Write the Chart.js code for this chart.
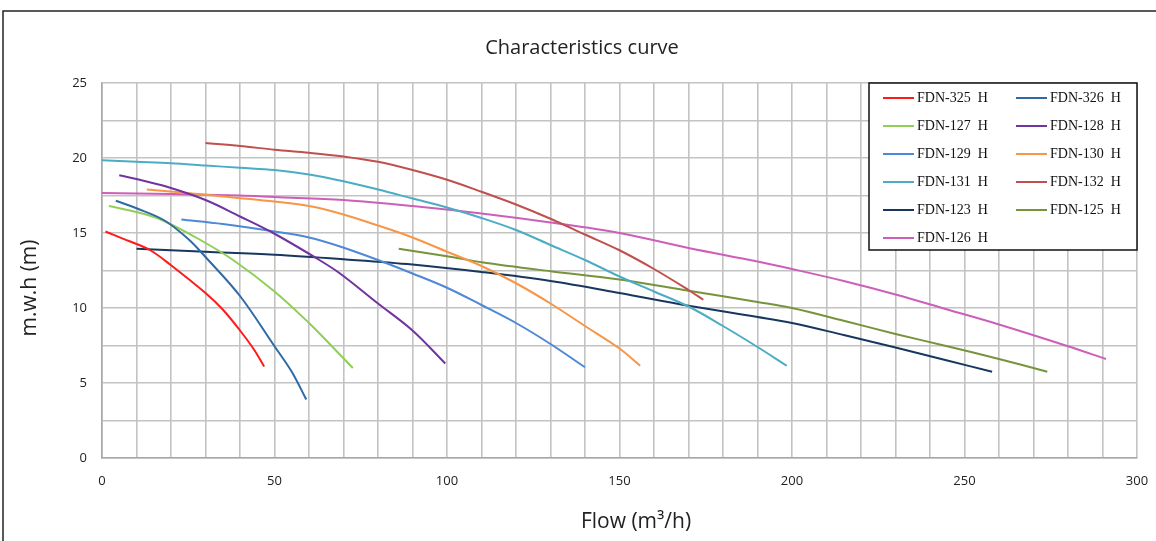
<!DOCTYPE html>
<html>
<head>
<meta charset="utf-8">
<script src="https://cdn.jsdelivr.net/npm/chart.js@4.4.1/dist/chart.umd.min.js"></script>
<style>
    html, body { margin: 0; padding: 0; background: #ffffff; }
    #wrap { position: relative; width: 1156px; height: 541px; }
</style>
</head>
<body>
<div id="wrap"><canvas id="myChart" width="1156" height="541"></canvas></div>
<script>
// flow (m3/h), head (m)
const fdn325 = [[1, 15.1], [8, 14.45], [14, 13.85], [20, 12.85], [30, 11.0], [35, 9.9], [40, 8.5], [44, 7.25], [47, 6.1]];
const fdn326 = [[4, 17.15], [10, 16.65], [18, 15.85], [25, 14.6], [30, 13.4], [40, 10.8], [50, 7.45], [55, 5.75], [59.2, 3.9]];
const fdn127 = [[2, 16.8], [10, 16.4], [17, 15.9], [28, 14.6], [38, 13.2], [50, 11.1], [60, 9.0], [66, 7.6], [72.7, 6.0]];
const fdn128 = [[5, 18.85], [10, 18.6], [18.6, 18.1], [30, 17.2], [40, 16.1], [50, 14.95], [63, 13.2], [69, 12.3], [80, 10.3], [90, 8.5], [99.5, 6.3]];
const fdn129 = [[23, 15.9], [35, 15.6], [50, 15.1], [60, 14.7], [69, 14.1], [80, 13.2], [90, 12.3], [100, 11.35], [110, 10.2], [120, 9.0], [130, 7.6], [140, 6.05]];
const fdn130 = [[13, 17.9], [30, 17.55], [50, 17.1], [60, 16.8], [69, 16.3], [80, 15.5], [90, 14.7], [100, 13.75], [110, 12.8], [120, 11.65], [130, 10.3], [140, 8.8], [150, 7.3], [156, 6.15]];
const fdn131 = [[0, 19.85], [10, 19.75], [20, 19.65], [30, 19.5], [40, 19.35], [50, 19.2], [60, 18.9], [70, 18.45], [80, 17.9], [90, 17.3], [100, 16.7], [110, 16.0], [120, 15.2], [130, 14.2], [140, 13.2], [150, 12.1], [160, 11.1], [170, 10.1], [180, 8.8], [190, 7.4], [198.5, 6.15]];
const fdn132 = [[30, 21.0], [40, 20.8], [50, 20.55], [60, 20.35], [70, 20.1], [80, 19.75], [90, 19.2], [100, 18.55], [110, 17.75], [120, 16.9], [130, 15.95], [140, 14.9], [150, 13.85], [160, 12.6], [170, 11.2], [174.3, 10.55]];
const fdn123 = [[10, 13.95], [30, 13.75], [50, 13.55], [70, 13.25], [90, 12.9], [110, 12.4], [130, 11.8], [150, 11.0], [170, 10.15], [190, 9.4], [200, 9.0], [215, 8.2], [230, 7.37], [245, 6.5], [258, 5.75]];
const fdn125 = [[86, 13.95], [100, 13.45], [110, 13.05], [130, 12.45], [150, 11.9], [170, 11.15], [190, 10.4], [200, 10.0], [215, 9.15], [230, 8.27], [245, 7.45], [260, 6.6], [274, 5.75]];
const fdn126 = [[0, 17.67], [20, 17.6], [40, 17.5], [50, 17.4], [70, 17.2], [90, 16.8], [110, 16.3], [130, 15.7], [150, 15.0], [170, 14.0], [190, 13.1], [200, 12.6], [215, 11.8], [230, 10.9], [245, 9.9], [260, 8.9], [280, 7.45], [291, 6.6]];

const nomes = ['FDN-325  H', 'FDN-326  H', 'FDN-127  H', 'FDN-128  H', 'FDN-129  H', 'FDN-130  H',
    'FDN-131  H', 'FDN-132  H', 'FDN-123  H', 'FDN-125  H', 'FDN-126  H'];
const series = [fdn325, fdn326, fdn127, fdn128, fdn129, fdn130, fdn131, fdn132, fdn123, fdn125, fdn126];
const cores = ['#ff1a1a', '#2f6aa5', '#8fcf55', '#7033a0', '#4f88d6', '#f79646',
    '#4bacc6', '#c0504d', '#17375e', '#77933c', '#cc5fb8'];

const xTicks = [0, 50, 100, 150, 200, 250, 300];
const yTicks = [0, 5, 10, 15, 20, 25];

let datasets = [];
for (let i = 0; i < series.length; i++) {
    datasets.push({
        label: nomes[i],
        data: series[i].map(p => ({ x: p[0], y: p[1] })),
        borderColor: cores[i],
        backgroundColor: cores[i],
        borderWidth: 2,
        pointRadius: 0,
        tension: 0.35,
        fill: false
    });
}

// frame, titles and the boxed legend
const extras = {
    id: 'extras',
    beforeDraw(chart) {
        let ctx = chart.ctx;
        ctx.save();
        ctx.fillStyle = '#fff';
        ctx.fillRect(0, 0, chart.width, chart.height);
        ctx.strokeStyle = '#222';
        ctx.lineWidth = 1.5;
        ctx.beginPath();
        ctx.moveTo(3, chart.height);
        ctx.lineTo(3, 11);
        ctx.lineTo(chart.width, 11);
        ctx.stroke();
        ctx.restore();
    },
    afterDraw(chart) {
        let ctx = chart.ctx;
        let area = chart.chartArea;
        ctx.save();
        ctx.fillStyle = '#222';
        ctx.textAlign = 'center';
        ctx.textBaseline = 'middle';
        ctx.font = '20px "Open Sans"';
        ctx.fillText('Characteristics curve', 582, 48);
        ctx.font = '21px "Open Sans"';
        ctx.fillText('Flow (m³/h)', 636, 522);
        ctx.translate(30, 288);
        ctx.rotate(-Math.PI / 2);
        ctx.fillText('m.w.h (m)', 0, 0);
        ctx.restore();

        // legend
        let lx = 869, ly = 83, lw = area.right - 869, lh = 167;
        ctx.save();
        ctx.fillStyle = '#fff';
        ctx.fillRect(lx, ly, lw, lh);
        ctx.strokeStyle = '#111';
        ctx.lineWidth = 1.5;
        ctx.strokeRect(lx, ly, lw, lh);
        ctx.font = '14px "Liberation Serif"';
        ctx.textBaseline = 'middle';
        ctx.textAlign = 'left';
        chart.data.datasets.forEach(function (ds, n) {
            let col = n % 2, row = Math.floor(n / 2);
            let x0 = col == 0 ? 883 : 1016;
            let y0 = 98 + row * 28;
            ctx.strokeStyle = ds.borderColor;
            ctx.lineWidth = 2;
            ctx.beginPath();
            ctx.moveTo(x0, y0);
            ctx.lineTo(x0 + 31, y0);
            ctx.stroke();
            ctx.fillStyle = '#111';
            ctx.fillText(ds.label, x0 + 34, y0 + 0.5);
        });
        ctx.restore();
    }
};

let config = {
    type: 'line',
    data: { datasets: datasets },
    options: {
        responsive: false,
        animation: false,
        layout: { padding: { top: 83, right: 19, left: 0, bottom: 0 } },
        plugins: {
            legend: { display: false },
            title: { display: false },
            tooltip: { enabled: false }
        },
        scales: {
            x: {
                type: 'linear',
                min: 0,
                max: 300,
                afterFit: function (scale) {
                    scale.height = 83;
                    scale.paddingLeft = 0;
                    scale.paddingRight = 0;
                },
                grid: { color: '#c3c3c3', lineWidth: 1.6, drawTicks: false },
                border: { color: '#a8a8a8', width: 1.6 },
                ticks: {
                    stepSize: 10,
                    autoSkip: false,
                    maxRotation: 0,
                    padding: 15,
                    color: '#222',
                    font: { family: 'Open Sans', size: 13 },
                    callback: function (v) { return xTicks.includes(v) ? String(v) : ''; }
                }
            },
            y: {
                type: 'linear',
                min: 0,
                max: 25,
                afterFit: function (scale) {
                    scale.width = 102;
                    scale.paddingTop = 0;
                    scale.paddingBottom = 0;
                },
                grid: { color: '#c3c3c3', lineWidth: 1.6, drawTicks: false },
                border: { color: '#a8a8a8', width: 1.6 },
                ticks: {
                    stepSize: 2.5,
                    autoSkip: false,
                    padding: 15,
                    color: '#222',
                    font: { family: 'Open Sans', size: 13 },
                    callback: function (v) { return yTicks.includes(v) ? String(v) : ''; }
                }
            }
        }
    },
    plugins: [extras]
};

let myChart = new Chart(document.getElementById('myChart'), config);
</script>
</body>
</html>
